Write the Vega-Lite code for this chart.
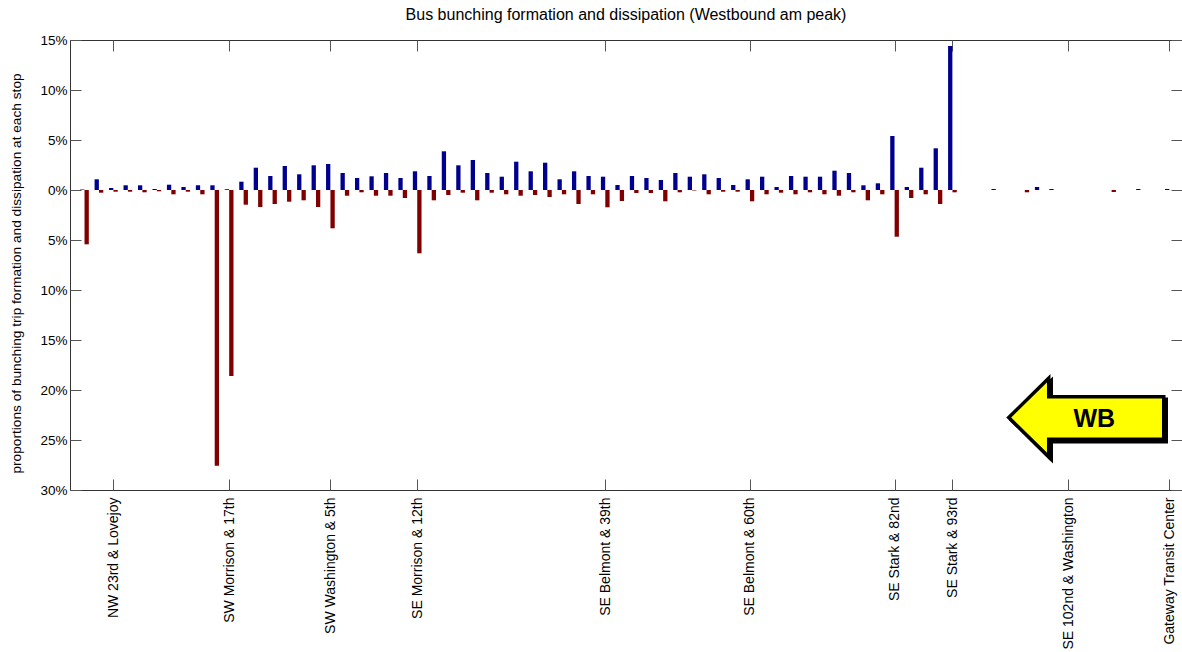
{
  "$schema": "https://vega.github.io/schema/vega-lite/v6.json",
  "width": 1112,
  "height": 450,
  "autosize": {"type": "none"},
  "padding": {"left": 70, "top": 40, "right": 0, "bottom": 162},
  "background": "#ffffff",
  "title": {
    "text": "Bus bunching formation and dissipation (Westbound am peak)",
    "font": "Liberation Sans",
    "fontSize": 16,
    "fontWeight": "normal",
    "color": "#000000",
    "anchor": "middle",
    "offset": 10
  },
  "config": {
    "view": {"stroke": "#333333", "strokeWidth": 1},
    "font": "Liberation Sans",
    "axis": {"labelFont": "Liberation Sans", "titleFont": "Liberation Sans", "grid": false}
  },
  "datasets": {
    "stops": [
      {"stop": 1, "formation": 0.05, "dissipation": -5.43},
      {"stop": 2, "formation": 1.07, "dissipation": -0.27},
      {"stop": 3, "formation": 0.2, "dissipation": -0.17},
      {"stop": 4, "formation": 0.47, "dissipation": -0.17},
      {"stop": 5, "formation": 0.47, "dissipation": -0.23},
      {"stop": 6, "formation": 0.1, "dissipation": -0.13},
      {"stop": 7, "formation": 0.53, "dissipation": -0.43},
      {"stop": 8, "formation": 0.3, "dissipation": -0.17},
      {"stop": 9, "formation": 0.47, "dissipation": -0.43},
      {"stop": 10, "formation": 0.47, "dissipation": -27.57},
      {"stop": 11, "formation": 0.08, "dissipation": -18.6},
      {"stop": 12, "formation": 0.83, "dissipation": -1.47},
      {"stop": 13, "formation": 2.23, "dissipation": -1.7},
      {"stop": 14, "formation": 1.4, "dissipation": -1.4},
      {"stop": 15, "formation": 2.4, "dissipation": -1.17},
      {"stop": 16, "formation": 1.57, "dissipation": -1.03},
      {"stop": 17, "formation": 2.47, "dissipation": -1.7},
      {"stop": 18, "formation": 2.6, "dissipation": -3.83},
      {"stop": 19, "formation": 1.7, "dissipation": -0.57},
      {"stop": 20, "formation": 1.2, "dissipation": -0.23},
      {"stop": 21, "formation": 1.37, "dissipation": -0.57},
      {"stop": 22, "formation": 1.7, "dissipation": -0.57},
      {"stop": 23, "formation": 1.2, "dissipation": -0.8},
      {"stop": 24, "formation": 1.87, "dissipation": -6.33},
      {"stop": 25, "formation": 1.4, "dissipation": -1.03},
      {"stop": 26, "formation": 3.87, "dissipation": -0.5},
      {"stop": 27, "formation": 2.47, "dissipation": -0.27},
      {"stop": 28, "formation": 3.0, "dissipation": -1.03},
      {"stop": 29, "formation": 1.7, "dissipation": -0.27},
      {"stop": 30, "formation": 1.33, "dissipation": -0.43},
      {"stop": 31, "formation": 2.83, "dissipation": -0.57},
      {"stop": 32, "formation": 1.87, "dissipation": -0.5},
      {"stop": 33, "formation": 2.73, "dissipation": -0.7},
      {"stop": 34, "formation": 1.07, "dissipation": -0.43},
      {"stop": 35, "formation": 1.87, "dissipation": -1.4},
      {"stop": 36, "formation": 1.4, "dissipation": -0.43},
      {"stop": 37, "formation": 1.33, "dissipation": -1.73},
      {"stop": 38, "formation": 0.5, "dissipation": -1.1},
      {"stop": 39, "formation": 1.4, "dissipation": -0.3},
      {"stop": 40, "formation": 1.2, "dissipation": -0.3},
      {"stop": 41, "formation": 1.0, "dissipation": -1.13},
      {"stop": 42, "formation": 1.7, "dissipation": -0.23},
      {"stop": 43, "formation": 1.33, "dissipation": -0.05},
      {"stop": 44, "formation": 1.57, "dissipation": -0.43},
      {"stop": 45, "formation": 1.2, "dissipation": -0.17},
      {"stop": 46, "formation": 0.5, "dissipation": -0.17},
      {"stop": 47, "formation": 1.07, "dissipation": -1.13},
      {"stop": 48, "formation": 1.33, "dissipation": -0.43},
      {"stop": 49, "formation": 0.3, "dissipation": -0.27},
      {"stop": 50, "formation": 1.4, "dissipation": -0.43},
      {"stop": 51, "formation": 1.33, "dissipation": -0.23},
      {"stop": 52, "formation": 1.33, "dissipation": -0.43},
      {"stop": 53, "formation": 1.93, "dissipation": -0.57},
      {"stop": 54, "formation": 1.7, "dissipation": -0.23},
      {"stop": 55, "formation": 0.47, "dissipation": -1.03},
      {"stop": 56, "formation": 0.67, "dissipation": -0.43},
      {"stop": 57, "formation": 5.4, "dissipation": -4.67},
      {"stop": 58, "formation": 0.3, "dissipation": -0.8},
      {"stop": 59, "formation": 2.23, "dissipation": -0.43},
      {"stop": 60, "formation": 4.17, "dissipation": -1.4},
      {"stop": 61, "formation": 14.4, "dissipation": -0.23},
      {"stop": 62, "formation": 0, "dissipation": 0},
      {"stop": 63, "formation": 0, "dissipation": 0},
      {"stop": 64, "formation": 0.1, "dissipation": 0},
      {"stop": 65, "formation": 0, "dissipation": 0},
      {"stop": 66, "formation": 0, "dissipation": -0.23},
      {"stop": 67, "formation": 0.3, "dissipation": 0},
      {"stop": 68, "formation": 0.1, "dissipation": 0},
      {"stop": 69, "formation": 0, "dissipation": 0},
      {"stop": 70, "formation": 0, "dissipation": 0},
      {"stop": 71, "formation": 0, "dissipation": 0},
      {"stop": 72, "formation": 0, "dissipation": -0.2},
      {"stop": 73, "formation": 0, "dissipation": 0},
      {"stop": 74, "formation": 0.1, "dissipation": 0},
      {"stop": 75, "formation": 0, "dissipation": 0},
      {"stop": 76, "formation": 0.1, "dissipation": 0}
    ],
    "direction": [
      {"stop": 70.25, "value": -22.75, "label": "WB"}
    ]
  },
  "resolve": {"axis": {"x": "independent", "y": "independent"}},
  "layer": [
    {
      "data": {"name": "stops"},
      "mark": {"type": "bar", "width": 4.3, "xOffset": -2.2, "color": "#00008F"},
      "encoding": {
        "x": {
          "field": "stop",
          "type": "quantitative",
          "scale": {"domain": [0, 76.87], "nice": false, "zero": false, "padding": 0},
          "axis": {
            "orient": "bottom",
            "values": [3, 11, 18, 24, 37, 47, 57, 61, 69, 76],
            "labelExpr": "datum.value == 3 ? 'NW 23rd & Lovejoy' : datum.value == 11 ? 'SW Morrison & 17th' : datum.value == 18 ? 'SW Washington & 5th' : datum.value == 24 ? 'SE Morrison & 12th' : datum.value == 37 ? 'SE Belmont & 39th' : datum.value == 47 ? 'SE Belmont & 60th' : datum.value == 57 ? 'SE Stark & 82nd' : datum.value == 61 ? 'SE Stark & 93rd' : datum.value == 69 ? 'SE 102nd & Washington' : 'Gateway Transit Center'",
            "labelAngle": -90,
            "labelAlign": "right",
            "labelBaseline": "middle",
            "labelFontSize": 14,
            "labelColor": "#000000",
            "labelPadding": 18,
            "labelFlush": false,
            "labelOverlap": false,
            "labelBound": false,
            "tickSize": -11,
            "tickColor": "#555555",
            "domain": false,
            "title": null
          }
        },
        "y": {
          "field": "formation",
          "type": "quantitative",
          "scale": {"domain": [-30, 15], "nice": false, "zero": false, "padding": 0},
          "axis": {
            "orient": "left",
            "values": [-30, -25, -20, -15, -10, -5, 0, 5, 10, 15],
            "labelExpr": "abs(datum.value) + '%'",
            "labelFontSize": 13.5,
            "labelColor": "#000000",
            "labelPadding": 14,
            "labelFlush": false,
            "labelOverlap": false,
            "labelBound": false,
            "tickSize": -11,
            "tickColor": "#555555",
            "domain": false,
            "title": "proportions of bunching trip formation and dissipation at each stop",
            "titleFontSize": 13.7,
            "titleFontWeight": "normal",
            "titleColor": "#000000",
            "titleAngle": -90,
            "titleAlign": "center",
            "titleBaseline": "middle",
            "titleX": -54,
            "titleY": 233
          }
        }
      }
    },
    {
      "data": {"name": "stops"},
      "mark": {"type": "bar", "width": 4.3, "xOffset": 2.2, "color": "#800000"},
      "encoding": {
        "x": {
          "field": "stop",
          "type": "quantitative",
          "scale": {"domain": [0, 76.87], "nice": false, "zero": false, "padding": 0},
          "axis": {
            "orient": "top",
            "values": [3, 11, 18, 24, 37, 47, 57, 61, 69, 76],
            "labels": false,
            "tickSize": -11,
            "tickColor": "#555555",
            "domain": false,
            "title": null
          }
        },
        "y": {
          "field": "dissipation",
          "type": "quantitative",
          "scale": {"domain": [-30, 15], "nice": false, "zero": false, "padding": 0},
          "axis": {
            "orient": "right",
            "values": [-30, -25, -20, -15, -10, -5, 0, 5, 10, 15],
            "labels": false,
            "tickSize": -11,
            "tickColor": "#555555",
            "domain": false,
            "title": null
          }
        }
      }
    },
    {
      "mark": {"type": "rule", "color": "#444444", "strokeWidth": 1},
      "encoding": {"y": {"datum": 0, "type": "quantitative", "axis": null}}
    },
    {
      "data": {"name": "direction"},
      "mark": {
        "type": "point",
        "shape": "M-1,0L-0.484,-0.506L-0.484,-0.268L1,-0.268L1,0.281L-0.484,0.281L-0.484,0.506Z",
        "size": 24025,
        "filled": true,
        "fill": "#000000",
        "stroke": "#000000",
        "strokeWidth": 3.5,
        "strokeJoin": "miter",
        "opacity": 1,
        "xOffset": 2.5,
        "yOffset": 2.5
      },
      "encoding": {
        "x": {"field": "stop", "type": "quantitative", "axis": null},
        "y": {"field": "value", "type": "quantitative", "axis": null}
      }
    },
    {
      "data": {"name": "direction"},
      "mark": {
        "type": "point",
        "shape": "M-1,0L-0.484,-0.506L-0.484,-0.268L1,-0.268L1,0.281L-0.484,0.281L-0.484,0.506Z",
        "size": 24025,
        "filled": true,
        "fill": "#FFFF00",
        "stroke": "#000000",
        "strokeWidth": 3.5,
        "strokeJoin": "miter",
        "opacity": 1
      },
      "encoding": {
        "x": {"field": "stop", "type": "quantitative", "axis": null},
        "y": {"field": "value", "type": "quantitative", "axis": null}
      }
    },
    {
      "data": {"name": "direction"},
      "mark": {
        "type": "text",
        "font": "Liberation Sans",
        "fontSize": 25,
        "fontWeight": "bold",
        "align": "center",
        "baseline": "middle",
        "dx": 8,
        "dy": 1,
        "color": "#000000"
      },
      "encoding": {
        "x": {"field": "stop", "type": "quantitative", "axis": null},
        "y": {"field": "value", "type": "quantitative", "axis": null},
        "text": {"field": "label"}
      }
    }
  ]
}
